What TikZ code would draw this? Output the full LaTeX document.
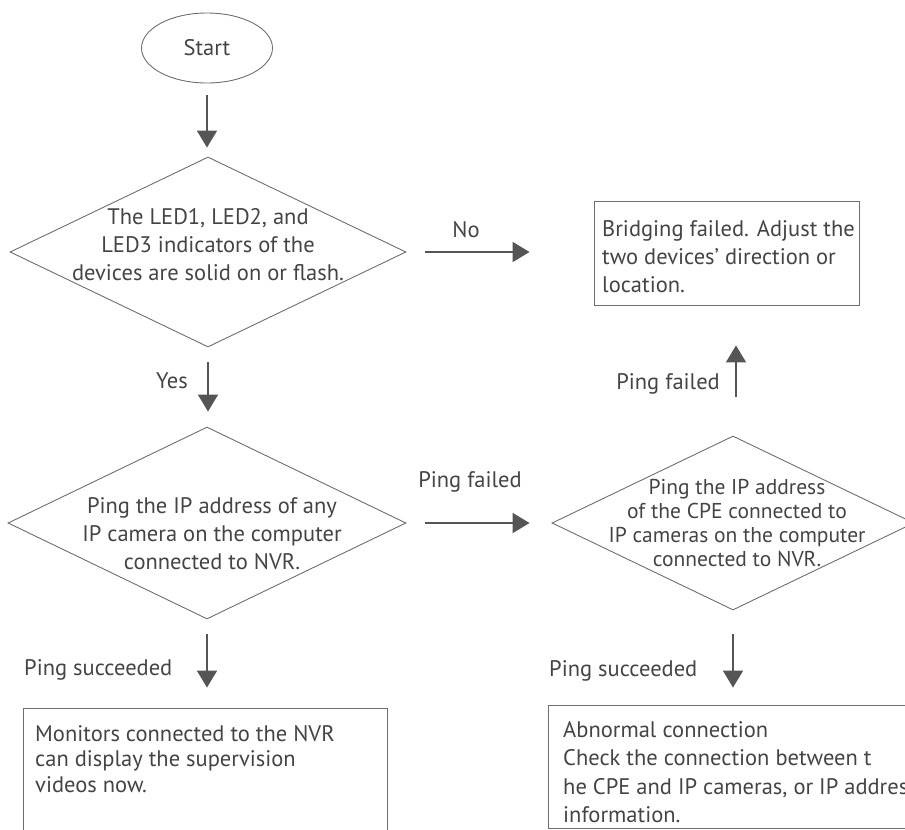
\documentclass[tikz,border=0pt]{standalone}
\usepackage{fontspec}
\setmainfont{PT Sans}
\usetikzlibrary{shapes.geometric,arrows.meta}
\definecolor{txt}{HTML}{444444}
\definecolor{edgec}{HTML}{6E6E6E}
\definecolor{arrc}{HTML}{555555}
\begin{document}
\begin{tikzpicture}[x=1pt,y=-1pt, font=\fontsize{22.5}{28}\selectfont, text=txt,
  outline/.style={draw=edgec, line width=0.9pt},
  dia/.style={outline, diamond, inner sep=0pt},
  box/.style={outline, rectangle, inner sep=0pt},
  arr/.style={draw=arrc, line width=1.8pt, -{Triangle[width=20pt,length=17pt]}},
  lbl/.style={inner sep=0pt}]
\useasboundingbox (0,0) rectangle (905,830);
\clip (0,0) rectangle (905,830);

% nodes
\node[ellipse, outline, minimum width=131pt, minimum height=70pt] (start) at (207,48) {Start};

\node[dia, minimum width=396pt, minimum height=190pt] (d1) at (208,252) {};
\node[lbl, align=center] (t1) at (208,245) {The LED1, LED2, and\\LED3 indicators of the\\devices are solid on or flash.};

\node[box, minimum width=265pt, minimum height=104pt] (bridge) at (726.5,253) {};
\node[lbl, align=left, anchor=north west] (tb) at (602,220) {Bridging failed. Adjust the\\two devices' direction or\\location.};

\node[dia, minimum width=398pt, minimum height=192pt] (d2) at (207,523) {};
\node[lbl, align=center] (t2) at (212,534) {Ping the IP address of any\\IP camera on the computer\\connected to NVR.};

\node[dia, minimum width=362pt, minimum height=174pt] (d3) at (733,523) {};
\node[lbl, align=center, font=\fontsize{21.5}{24}\selectfont] (t3) at (737,523) {Ping the IP address\\of the CPE connected to\\IP cameras on the computer\\connected to NVR.};

\node[box, minimum width=364pt, minimum height=142pt] (mon) at (205,779) {};
\node[lbl, align=left, anchor=north west, font=\fontsize{22.5}{25.5}\selectfont] (tm) at (35,725) {Monitors connected to the NVR\\can display the supervision\\videos now.};

\node[box, minimum width=382pt, minimum height=123pt] (abn) at (739,766.5) {};
\node[lbl, align=left, anchor=north west, font=\fontsize{22.5}{28.5}\selectfont] (ta) at (563,721) {Abnormal connection\\Check the connection between t\\he CPE and IP cameras, or IP address\\information.};

% labels
\node[lbl] (lno) at (466,230) {No};
\node[lbl] (lyes) at (172,381) {Yes};
\node[lbl, anchor=east] (lpf1) at (720,384) {Ping failed};
\node[lbl] (lpf2) at (470,482) {Ping failed};
\node[lbl, anchor=west] (lps1) at (24,670) {Ping succeeded};
\node[lbl, anchor=west] (lps2) at (549,671) {Ping succeeded};

% connectors
\draw[arr, shorten <=12pt, shorten >=9pt] (start.south) -- (start.south |- d1.north);
\draw[arr, shorten <=19pt, shorten >=64pt] (d1.east) -- (d1.east -| bridge.west);
\draw[arr, shorten <=15pt, shorten >=15pt] (d1.south) -- (d1.south |- d2.north);
\draw[arr, shorten <=19pt, shorten >=22pt] (d2.east) -- (d3.west);
\draw[arr, shorten <=39pt, shorten >=40pt] ([xshift=3pt]d3.north) -- ([xshift=3pt]d3.north |- bridge.south);
\draw[arr, shorten <=15pt, shorten >=20pt] (d2.south) -- (d2.south |- mon.north);
\draw[arr, shorten <=24pt, shorten >=17pt] (d3.south) -- (d3.south |- abn.north);
\end{tikzpicture}
\end{document}
